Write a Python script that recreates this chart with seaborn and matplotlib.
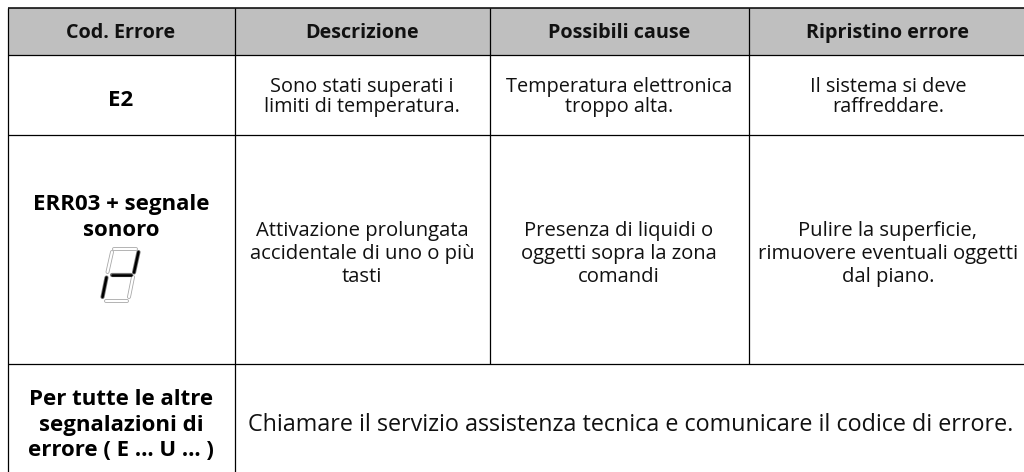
import matplotlib
matplotlib.use('Agg')
import matplotlib.pyplot as plt
import numpy as np
import seaborn as sns

# table text
headers = ['Cod. Errore', 'Descrizione', 'Possibili cause', 'Ripristino errore']
row_e2 = ['E2', 'Sono stati superati i\nlimiti di temperatura.',
          'Temperatura elettronica\ntroppo alta.', 'Il sistema si deve\nraffreddare.']
row_err03 = ['ERR03 + segnale\nsonoro', 'Attivazione prolungata\naccidentale di uno o più\ntasti',
             'Presenza di liquidi o\noggetti sopra la zona\ncomandi',
             'Pulire la superficie,\nrimuovere eventuali oggetti\ndal piano.']
row_other_code = 'Per tutte le altre\nsegnalazioni di\nerrore ( E … U … )'
row_other_text = 'Chiamare il servizio assistenza tecnica e comunicare il codice di errore.'

# grid lines in pixels
col_x = [7.5, 234.5, 489.5, 748.5]
row_y = [8, 55, 135, 364]
col_centers = [121, 362, 619, 888]

# seven segment glyph, (x0, y0, x1, y1) in pixels
seg_on = [(138.5, 252, 134, 272.5), (112, 274.5, 131, 274.5), (106.5, 277.5, 102.5, 297)]
seg_off = [(114, 249, 136, 249), (112, 252, 107.5, 272), (133, 277, 129, 297), (106, 300.5, 127, 300.5)]

sns.set_theme(style='white')
plt.rcParams['font.family'] = ['Open Sans', 'DejaVu Sans']

fig = plt.figure(figsize=(10.24, 4.72), dpi=100)

# header band
ax_head = fig.add_axes([col_x[0] / 1024, 1 - 55 / 472, 1 - col_x[0] / 1024, 47 / 472])
sns.heatmap(np.zeros((1, 1)), cmap=['#bfbfbf'], cbar=False, xticklabels=False, yticklabels=False, ax=ax_head)

ax = fig.add_axes([0, 0, 1, 1])
ax.patch.set_alpha(0)
ax.set_xlim(0, 1024)
ax.set_ylim(472, 0)
ax.axis('off')

ax.hlines(row_y[0], col_x[0], 1024, color='#000000', lw=1.1)
ax.hlines(row_y[1:], col_x[0], 1024, color='#000000', lw=0.9)
ax.vlines(col_x[:2], row_y[0], 472, color='#000000', lw=0.9)
ax.vlines(col_x[2:], row_y[0], row_y[3], color='#000000', lw=0.9)

for x, label in zip(col_centers, headers):
    ax.text(x, 33, label, ha='center', va='center', fontsize=14.2, fontweight='bold', color='#111111')

ax.text(col_centers[0], 100, row_e2[0], ha='center', va='center', fontsize=16, fontweight='bold', color='#000000')
for x, label in zip(col_centers[1:], row_e2[1:]):
    ax.text(x, 97, label, ha='center', va='center', fontsize=14.3, color='#111111', linespacing=0.97)

ax.text(col_centers[0], 217.5, row_err03[0], ha='center', va='center', fontsize=16, fontweight='bold',
        color='#000000', linespacing=1.29)
for x, label in zip(col_centers[1:], row_err03[1:]):
    ax.text(x, 254, label, ha='center', va='center', fontsize=14.6, color='#111111', linespacing=1.17)

ax.text(col_centers[0], 425, row_other_code, ha='center', va='center', fontsize=16, fontweight='bold',
        color='#000000', linespacing=1.3)
ax.text(631, 425, row_other_text, ha='center', va='center', fontsize=16.8, color='#111111')

for x0, y0, x1, y1 in seg_off:
    ax.plot([x0, x1], [y0, y1], color='#a8a8a8', lw=2.8, solid_capstyle='round')
    ax.plot([x0, x1], [y0, y1], color='#ffffff', lw=1.6, solid_capstyle='round')
for x0, y0, x1, y1 in seg_on:
    ax.plot([x0, x1], [y0, y1], color='#777777', lw=3.0, solid_capstyle='round')
    ax.plot([x0, x1], [y0, y1], color='#000000', lw=1.8, solid_capstyle='round')

fig.savefig('out.png', dpi=100)
